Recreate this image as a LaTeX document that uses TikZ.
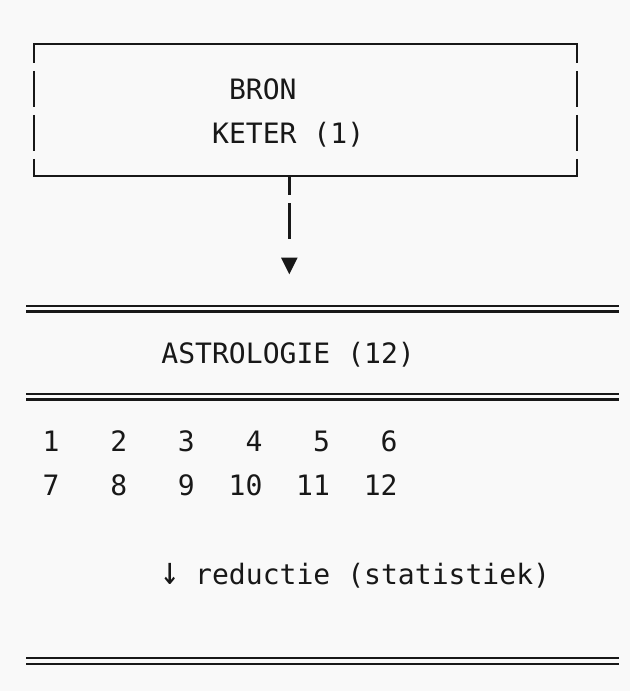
\documentclass[tikz,border=0pt]{standalone}
\usepackage{fontspec}
\setmonofont{DejaVu Sans Mono}
\definecolor{bg}{RGB}{249,249,249}
\definecolor{ink}{RGB}{24,24,24}
\begin{document}
\begin{tikzpicture}[x=1pt,y=-1pt,
  txt/.style={inner sep=0pt, text=ink, font=\ttfamily\fontsize{28.07pt}{34pt}\selectfont},
  boxline/.style={draw=ink, line width=2.4pt, line cap=rect},
  sidedash/.style={draw=ink, line width=2.4pt, dash pattern=on 36pt off 8pt, dash phase=17pt},
  dbl/.style={draw=ink, line width=2.2pt, double=bg, double distance=3.5pt}]
\fill[bg] (0,0) rectangle (630,691);
\useasboundingbox (0,0) rectangle (630,691);
% source box
\node[minimum width=543pt, minimum height=132pt, inner sep=0pt] (src) at (305.5,110) {};
\draw[boxline] (src.north west) -- (src.north east);
\draw[boxline] (src.south west) -- (src.south east);
\draw[sidedash] (src.north west) -- (src.south west);
\draw[sidedash] (src.north east) -- (src.south east);
\node[txt, anchor=base west] (bron) at (228.8,99) {BRON};
\node[txt, anchor=base west] (keter) at (211.9,143) {KETER (1)};
% connector
\coordinate (tri) at (289.3,266);
\draw[sidedash] (tri |- src.south) -- ([yshift=27pt]tri);
\fill[ink] ([shift={(-8.3,-8.3)}]tri) -- ([shift={(8.3,-8.3)}]tri) -- ([shift={(0,8.3)}]tri) -- cycle;
% astrologie band
\draw[dbl] (26,308.6) -- (619,308.6);
\node[txt, anchor=base west] (astro) at (161.2,363) {ASTROLOGIE (12)};
\draw[dbl] (26,396.7) -- (619,396.7);
% numbers
\foreach \n/\c in {1/1,2/5,3/9,4/13,5/17,6/21}
  \node[txt, anchor=base east] (n\n) at ({26+(\c+1)*16.9},451) {\n};
\foreach \n/\c in {7/1,8/5,9/9,10/13,11/17,12/21}
  \node[txt, anchor=base east] (n\n) at ({26+(\c+1)*16.9},495) {\n};
\node[txt, anchor=base west] (red) at (161.2,584) {\makebox[16.9pt][c]{\scalebox{1.15}[1.4]{↓}} reductie (statistiek)};
\draw[dbl] (26,660.8) -- (619,660.8);
\end{tikzpicture}
\end{document}
